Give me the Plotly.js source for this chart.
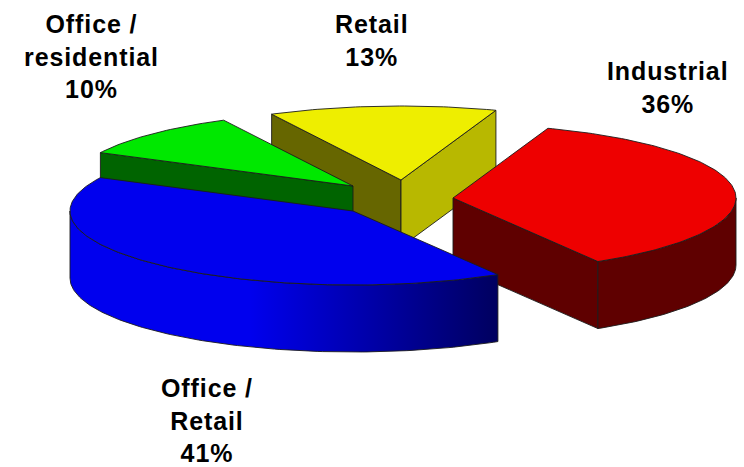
<!DOCTYPE html>
<html>
<head>
<meta charset="utf-8">
<script src="https://cdn.plot.ly/plotly-3.0.1.min.js"></script>
<style>
  html, body { margin: 0; padding: 0; background: #fff; }
  #chart { width: 744px; height: 467px; }
  .annotation-text { letter-spacing: 0.9px; }
</style>
</head>
<body>
<div id="chart"></div>
<script>
// Share of the portfolio by property type, clockwise from the first slice.
const categories = ['Industrial', 'Office /<br>Retail', 'Office /<br>residential', 'Retail'];
const shares = [36, 41, 10, 13];

// Slice appearance, same order as the categories.
const topColours = ['#ee0000', '#0000ee', '#00e800', '#eeee00'];
const startFaceColours = ['#5f0000', '#00005f', '#006400', '#666600'];
const endFaceColours = ['#5f0000', '#00005f', '#006400', '#b8b800'];
const wallColours = ['#5f0000', '#0000ee', '#006400', '#b8b800'];

// Where each slice's tip sits once the pie is pulled apart (plot units).
const tipX = [453, 353, 353, 401];
const tipY = [198, 211, 186, 180];

// Label anchors (plot units).
const labelX = [668, 207, 91, 371];
const labelY = [87, 420, 56, 40];

// Tilted-disc projection and drawing order (back to front).
const radiusX = 283, radiusY = 74, depth = 67, firstAngle = 19.6;
const paintOrder = [3, 2, 0, 1];
const edge = { color: '#1c1c1c', width: 0.9 };

const total = shares.reduce((a, b) => a + b, 0);
const rad = d => d * Math.PI / 180;
const starts = [];
shares.reduce((angle, v, i) => { starts[i] = angle; return angle + v / total * 360; }, firstAngle);

function rim(i, angle, drop) {
  return [tipX[i] + radiusX * Math.sin(rad(angle)),
          tipY[i] - radiusY * Math.cos(rad(angle)) + drop];
}

function polygon(points, fill, extra) {
  return Object.assign({
    type: 'scatter', mode: 'lines', fill: 'toself', fillcolor: fill,
    x: points.map(p => p[0]), y: points.map(p => p[1]),
    line: edge, hoverinfo: 'skip', showlegend: false
  }, extra || {});
}

function arcPoints(i, from, to, drop) {
  const pts = [];
  const steps = Math.max(2, Math.ceil(Math.abs(to - from)));
  for (let k = 0; k <= steps; k++) pts.push(rim(i, from + (to - from) * k / steps, drop));
  return pts;
}

const traces = [];
paintOrder.forEach(i => {
  const s = starts[i], e = s + shares[i] / total * 360;
  const tip = [tipX[i], tipY[i]], tipLow = [tipX[i], tipY[i] + depth];

  // Flat cut faces, only those turned towards the viewer.
  if (Math.sin(rad(s)) < 0) {
    traces.push(polygon([tip, rim(i, s, 0), rim(i, s, depth), tipLow, tip], startFaceColours[i]));
  }
  if (Math.sin(rad(e)) > 0) {
    traces.push(polygon([tip, rim(i, e, 0), rim(i, e, depth), tipLow, tip], endFaceColours[i]));
  }

  // Curved outer wall: the front half of the disc only.
  const from = Math.max(s, 90), to = Math.min(e, 270);
  if (to > from) {
    const wall = arcPoints(i, from, to, 0).concat(arcPoints(i, to, from, depth));
    wall.push(wall[0]);
    const extra = i === 1 ? {
      fillgradient: {
        type: 'horizontal',
        colorscale: [[0, '#0000ee'], [0.42, '#0000ee'], [1, '#00005f']]
      }
    } : null;
    traces.push(polygon(wall, wallColours[i], extra));
  }

  // Top surface.
  const top = [tip].concat(arcPoints(i, s, e, 0));
  top.push(tip);
  traces.push(polygon(top, topColours[i]));
});

const annotations = categories.map((name, i) => ({
  x: labelX[i], y: labelY[i], xref: 'x', yref: 'y',
  text: name + '<br>' + shares[i] + '%',
  showarrow: false, align: 'center', xanchor: 'center', yanchor: 'middle',
  font: { family: '"Liberation Sans", Arial, sans-serif', size: 25, weight: 700, color: '#000' }
}));

const hiddenAxis = { visible: false, fixedrange: true };
Plotly.newPlot('chart', traces, {
  width: 744, height: 467,
  margin: { l: 0, r: 0, t: 0, b: 0 },
  paper_bgcolor: '#fff', plot_bgcolor: '#fff',
  xaxis: Object.assign({ range: [0, 744] }, hiddenAxis),
  yaxis: Object.assign({ range: [467, 0] }, hiddenAxis),
  annotations: annotations,
  showlegend: false
}, { displayModeBar: false, staticPlot: true });
</script>
</body>
</html>
